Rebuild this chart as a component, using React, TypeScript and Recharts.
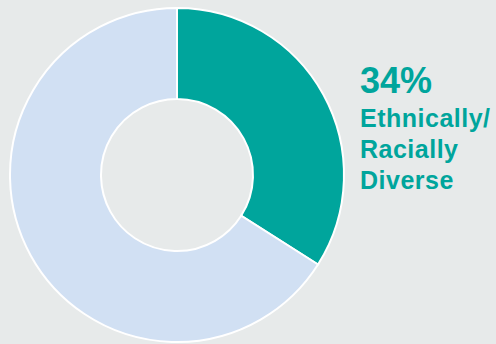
import React from "react";
import { PieChart, Pie, Cell } from "recharts";

const categories = ["Ethnically/Racially Diverse", "Other"];
const values = [34, 66];
const colors = ["#00A59C", "#D1E0F3"];
const labelLines = ["Ethnically/", "Racially", "Diverse"];

const data = categories.map((name, i) => ({ name, value: values[i] }));

const font = "'Liberation Sans', Arial, sans-serif";

export default function App() {
  return (
    <div
      style={{
        position: "fixed",
        left: 0,
        top: 0,
        width: 496,
        height: 344,
        background: "#E7EAEA",
        overflow: "hidden",
      }}
    >
      <PieChart width={496} height={344} margin={{ top: 0, right: 0, bottom: 0, left: 0 }}>
        <Pie
          data={data}
          dataKey="value"
          nameKey="name"
          cx={177}
          cy={175}
          innerRadius={76}
          outerRadius={167}
          startAngle={90}
          endAngle={-270}
          stroke="#FFFFFF"
          strokeWidth={2}
          isAnimationActive={false}
        >
          {data.map((d, i) => (
            <Cell key={d.name} fill={colors[i]} />
          ))}
        </Pie>
      </PieChart>
      <svg
        width={496}
        height={344}
        style={{ position: "absolute", left: 0, top: 0 }}
      >
        <text
          x={360}
          y={93}
          fill="#00A59C"
          fontFamily={font}
          fontWeight="bold"
          fontSize={36}
        >
          {values[0]}%
        </text>
        {labelLines.map((l, i) => (
          <text
            key={l}
            x={360}
            y={127 + i * 31}
            fill="#00A59C"
            fontFamily={font}
            fontWeight="bold"
            fontSize={25}
            letterSpacing={0.5}
          >
            {l}
          </text>
        ))}
      </svg>
    </div>
  );
}
